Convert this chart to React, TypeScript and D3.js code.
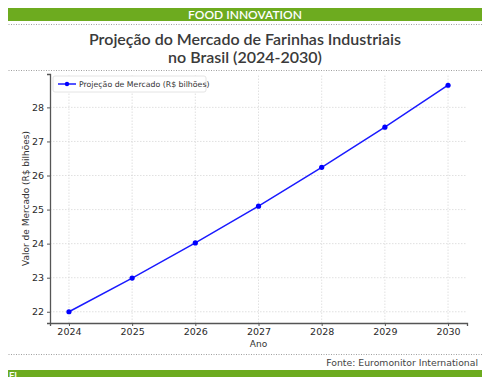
import { useRef, useEffect } from "react";
import * as d3 from "d3";

const width = 490;
const height = 385;

const anos = [2024, 2025, 2026, 2027, 2028, 2029, 2030];
const valores = [22.0, 22.99, 24.02, 25.1, 26.24, 27.42, 28.65];
const yTicks = [22, 23, 24, 25, 26, 27, 28];

const tituloLinhas = ["Projeção do Mercado de Farinhas Industriais", "no Brasil (2024-2030)"];
const legendaTexto = "Projeção de Mercado (R$ bilhões)";

const green = "#6dab1f";
const font = "'DejaVu Sans', sans-serif";

const margin = { top: 74, right: 23, bottom: 62, left: 50 };

const Chart = () => {
  const ref = useRef<SVGSVGElement>(null);

  useEffect(() => {
    const svg = d3.select(ref.current);
    svg.selectAll("*").remove();

    const x = d3
      .scaleLinear()
      .domain([2023.7, 2030.3])
      .range([margin.left, width - margin.right]);
    const y = d3
      .scaleLinear()
      .domain([21.67, 28.98])
      .range([height - margin.bottom, margin.top]);

    // header
    svg.append("rect").attr("x", 6).attr("y", 6).attr("width", 476).attr("height", 15).attr("fill", green);
    svg
      .append("text")
      .attr("x", 245)
      .attr("y", 18.5)
      .attr("text-anchor", "middle")
      .attr("fill", "#fff")
      .attr("font-family", "Lato, sans-serif")
      .attr("font-weight", 600)
      .attr("font-size", 12)
      .text("FOOD INNOVATION");

    const dotted = (yy: number) =>
      svg
        .append("line")
        .attr("x1", 6)
        .attr("x2", 482)
        .attr("y1", yy)
        .attr("y2", yy)
        .attr("stroke", "#888")
        .attr("stroke-width", 0.8)
        .attr("stroke-dasharray", "1,1.5");
    dotted(24.5);
    dotted(70.5);
    dotted(354.5);

    svg
      .selectAll(".titulo")
      .data(tituloLinhas)
      .join("text")
      .attr("x", 245)
      .attr("y", (_, i) => 45 + i * 18)
      .attr("text-anchor", "middle")
      .attr("fill", "#3a3a3a")
      .attr("font-family", "Lato, sans-serif")
      .attr("font-weight", 600)
      .attr("font-size", 16)
      .text((d) => d);

    // grid
    const g = svg.append("g");
    g.selectAll(".gx")
      .data(anos)
      .join("line")
      .attr("x1", (d) => x(d))
      .attr("x2", (d) => x(d))
      .attr("y1", y(21.67))
      .attr("y2", margin.top)
      .attr("stroke", "#ccc")
      .attr("stroke-width", 0.6)
      .attr("stroke-dasharray", "1.5,1.5");
    g.selectAll(".gy")
      .data(yTicks)
      .join("line")
      .attr("x1", margin.left)
      .attr("x2", width - margin.right)
      .attr("y1", (d) => y(d))
      .attr("y2", (d) => y(d))
      .attr("stroke", "#ccc")
      .attr("stroke-width", 0.6)
      .attr("stroke-dasharray", "1.5,1.5");

    // axes
    const xAxis = svg
      .append("g")
      .attr("transform", `translate(0,${y(21.67)})`)
      .call(d3.axisBottom(x).tickValues(anos).tickFormat(d3.format("d")).tickSize(3).tickPadding(2));
    const yAxis = svg
      .append("g")
      .attr("transform", `translate(${margin.left},0)`)
      .call(d3.axisLeft(y).tickValues(yTicks).tickSize(3));
    [xAxis, yAxis].forEach((a) => {
      a.select(".domain").attr("stroke", "#555").attr("stroke-width", 1.3);
      a.selectAll(".tick line").attr("stroke", "#555");
      a.selectAll("text").attr("fill", "#2a2a2a").attr("font-family", font).attr("font-size", 9.5);
    });

    svg
      .append("text")
      .attr("x", (x(2024) + x(2030)) / 2)
      .attr("y", 347)
      .attr("text-anchor", "middle")
      .attr("fill", "#333")
      .attr("font-family", font)
      .attr("font-size", 9)
      .text("Ano");
    svg
      .append("text")
      .attr("transform", `translate(29,${(margin.top + y(21.67)) / 2}) rotate(-90)`)
      .attr("text-anchor", "middle")
      .attr("fill", "#333")
      .attr("font-family", font)
      .attr("font-size", 9)
      .text("Valor de Mercado (R$ bilhões)");

    // line
    const line = d3
      .line<number>()
      .x((_, i) => x(anos[i]))
      .y((d) => y(d));
    svg
      .append("path")
      .datum(valores)
      .attr("d", line)
      .attr("fill", "none")
      .attr("stroke", "#1a1aff")
      .attr("stroke-width", 1.5);
    svg
      .selectAll(".pt")
      .data(valores)
      .join("circle")
      .attr("cx", (_, i) => x(anos[i]))
      .attr("cy", (d) => y(d))
      .attr("r", 2.6)
      .attr("fill", "#0000ff");

    // legend
    const lg = svg.append("g").attr("transform", `translate(${margin.left + 3},${margin.top + 2})`);
    lg.append("rect")
      .attr("width", 153)
      .attr("height", 16)
      .attr("rx", 2)
      .attr("fill", "#fff")
      .attr("stroke", "#ddd")
      .attr("stroke-width", 0.8);
    lg.append("line").attr("x1", 5).attr("x2", 23).attr("y1", 8).attr("y2", 8).attr("stroke", "#1a1aff").attr("stroke-width", 1.5);
    lg.append("circle").attr("cx", 14).attr("cy", 8).attr("r", 2.2).attr("fill", "#0000ff");
    lg.append("text")
      .attr("x", 26)
      .attr("y", 11)
      .attr("fill", "#333")
      .attr("font-family", font)
      .attr("font-size", 7.8)
      .text(legendaTexto);

    // footer
    svg
      .append("text")
      .attr("x", 478)
      .attr("y", 366)
      .attr("text-anchor", "end")
      .attr("fill", "#444")
      .attr("font-family", font)
      .attr("font-size", 9.3)
      .text("Fonte: Euromonitor International");
    svg.append("rect").attr("x", 7).attr("y", 370).attr("width", 476).attr("height", 10).attr("fill", green);
    svg
      .append("text")
      .attr("x", 9)
      .attr("y", 378.5)
      .attr("fill", "#fff")
      .attr("font-family", "Lato, sans-serif")
      .attr("font-weight", 600)
      .attr("font-size", 9.5)
      .text("FI");
  }, []);

  return <svg ref={ref} width={width} height={height} style={{ display: "block" }} />;
};

export default function App() {
  return (
    <div style={{ margin: -8, background: "#fff", width, height }}>
      <Chart />
    </div>
  );
}
